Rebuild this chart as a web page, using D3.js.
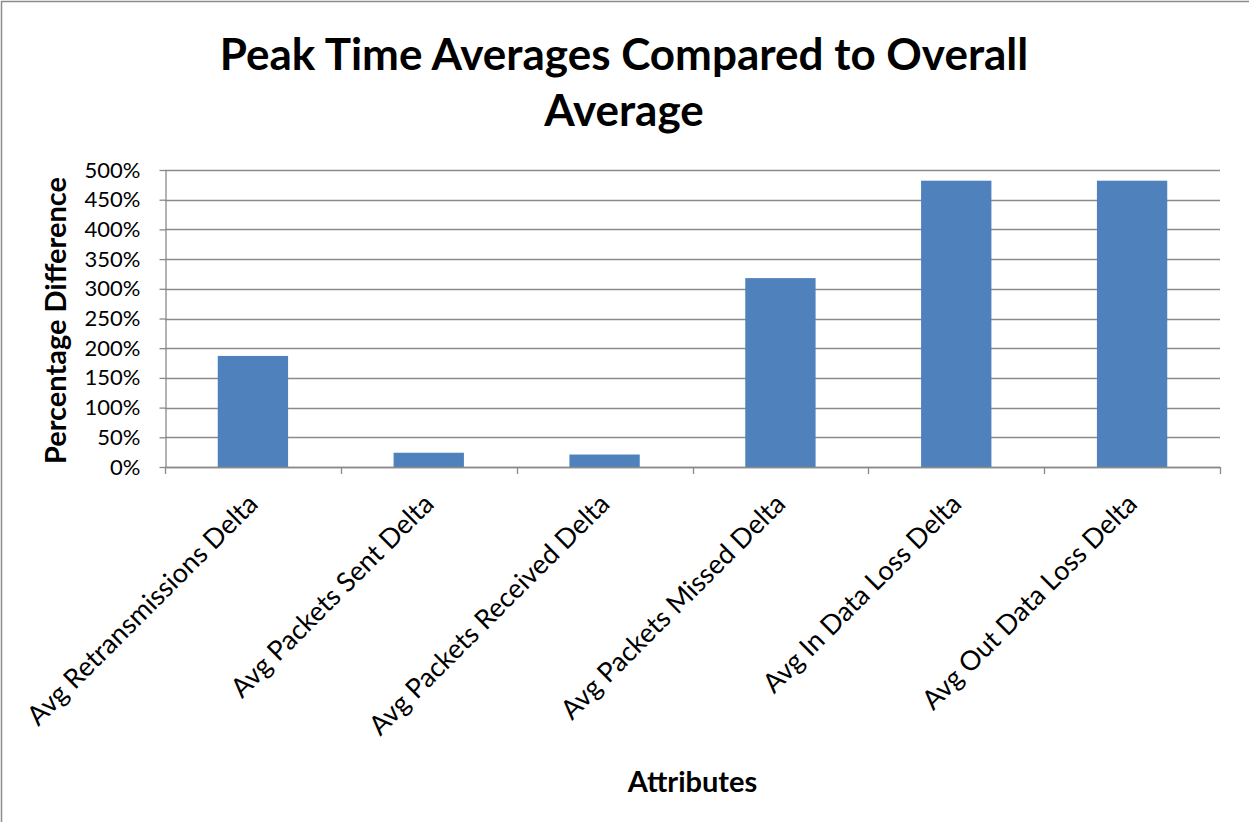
<!DOCTYPE html>
<html>
<head>
<meta charset="utf-8">
<script src="https://cdn.jsdelivr.net/npm/d3@7"></script>
<style>
  html, body { margin: 0; padding: 0; background: #fff; }
  svg { display: block; }
  text { font-family: Lato, "Open Sans", sans-serif; fill: #000; }
</style>
</head>
<body>
<svg id="chart" width="1249" height="822"></svg>
<script>
// Chart data
const categories = [
  "Avg Retransmissions Delta",
  "Avg Packets Sent Delta",
  "Avg Packets Received Delta",
  "Avg Packets Missed Delta",
  "Avg In Data Loss Delta",
  "Avg Out Data Loss Delta"
];
const values = [1.87, 0.24, 0.21, 3.18, 4.82, 4.82];
const yTicks = [0, 0.5, 1, 1.5, 2, 2.5, 3, 3.5, 4, 4.5, 5];
const titleLines = ["Peak Time Averages Compared to Overall", "Average"];
const yTitle = "Percentage Difference";
const xTitle = "Attributes";

const W = 1249, H = 822;
const plot = { left: 165, right: 1220, top: 170, bottom: 467 };
const barColor = "#4F81BD";
const gridColor = "#8a8a8a";

const svg = d3.select("#chart");

svg.append("rect").attr("width", W).attr("height", H).attr("fill", "#fff");

// outer frame (top and left edges visible)
svg.append("path")
  .attr("d", `M1.5,${H} V1.5 H${W}`)
  .attr("fill", "none")
  .attr("stroke", "#8c8c8c")
  .attr("stroke-width", 1.5);

const x = d3.scaleBand()
  .domain(categories)
  .range([plot.left, plot.right])
  .paddingInner(0.6)
  .paddingOuter(0.3);

const y = d3.scaleLinear()
  .domain([0, 5])
  .range([plot.bottom, plot.top]);

// gridlines
svg.append("g")
  .selectAll("line")
  .data(yTicks)
  .join("line")
  .attr("x1", plot.left)
  .attr("x2", plot.right)
  .attr("y1", d => Math.round(y(d)) + 0.5)
  .attr("y2", d => Math.round(y(d)) + 0.5)
  .attr("stroke", gridColor)
  .attr("stroke-width", 1.3);

// y axis
const yAxis = svg.append("g")
  .attr("transform", `translate(${plot.left + 0.5},0)`)
  .call(d3.axisLeft(y).tickValues(yTicks).tickFormat(d3.format(".0%")).tickSizeInner(6).tickSizeOuter(0).tickPadding(19));
yAxis.select(".domain").attr("stroke", gridColor).attr("stroke-width", 1.3);
yAxis.selectAll(".tick line").attr("stroke", gridColor).attr("stroke-width", 1.3);
yAxis.selectAll(".tick text")
  .style("font-family", "Lato, sans-serif")
  .style("font-size", "22px")
  .attr("fill", "#222");

// bars
svg.append("g")
  .selectAll("rect")
  .data(categories.map((c, i) => ({ c, v: values[i] })))
  .join("rect")
  .attr("x", d => x(d.c))
  .attr("width", x.bandwidth())
  .attr("y", d => y(d.v))
  .attr("height", d => y(0) - y(d.v))
  .attr("fill", barColor);

// x axis baseline and category boundary ticks
const xAxisG = svg.append("g");
xAxisG.append("line")
  .attr("x1", plot.left).attr("x2", plot.right)
  .attr("y1", Math.round(y(0)) + 0.5).attr("y2", Math.round(y(0)) + 0.5)
  .attr("stroke", gridColor).attr("stroke-width", 1.3);
xAxisG.selectAll("line.tk")
  .data(d3.range(categories.length + 1))
  .join("line")
  .attr("class", "tk")
  .attr("x1", i => Math.round(plot.left + i * x.step()) + 0.5)
  .attr("x2", i => Math.round(plot.left + i * x.step()) + 0.5)
  .attr("y1", y(0))
  .attr("y2", y(0) + 7)
  .attr("stroke", gridColor).attr("stroke-width", 1.3);

// rotated category labels
svg.append("g")
  .selectAll("text")
  .data(categories)
  .join("text")
  .attr("transform", d => `translate(${x(d) + x.bandwidth() / 2},${plot.bottom + 32}) rotate(-45)`)
  .attr("text-anchor", "end")
  .attr("dy", "0.35em")
  .style("font-size", "27px")
  .attr("fill", "#222")
  .text(d => d);

// title
svg.append("text")
  .attr("text-anchor", "middle")
  .style("font-weight", "bold")
  .style("font-size", "44px")
  .selectAll("tspan")
  .data(titleLines)
  .join("tspan")
  .attr("x", 624)
  .attr("y", (d, i) => 70 + i * 56)
  .text(d => d);

// y axis title
svg.append("text")
  .attr("transform", `translate(66,${(plot.top + plot.bottom) / 2 + 2}) rotate(-90)`)
  .attr("text-anchor", "middle")
  .style("font-weight", "bold")
  .style("font-size", "29px")
  .text(yTitle);

// x axis title
svg.append("text")
  .attr("x", (plot.left + plot.right) / 2)
  .attr("y", 792)
  .attr("text-anchor", "middle")
  .style("font-weight", "bold")
  .style("font-size", "29px")
  .text(xTitle);
</script>
</body>
</html>
